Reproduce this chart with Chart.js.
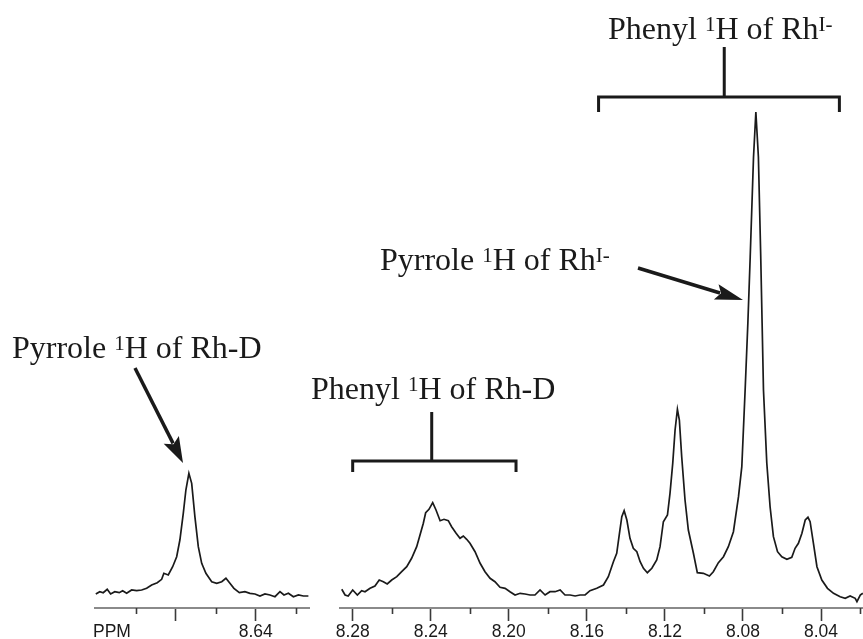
<!DOCTYPE html>
<html><head><meta charset="utf-8">
<script src="https://cdn.jsdelivr.net/npm/chart.js@4.4.0/dist/chart.umd.min.js"></script>
<style>
html,body{margin:0;padding:0;background:#fff;width:863px;height:639px;overflow:hidden}
#wrap{position:relative;width:863px;height:639px;background:#fff}
canvas{position:absolute;top:0;left:0}
</style></head><body>
<div id="wrap">
<canvas id="rightChart" width="863" height="639"></canvas>
<canvas id="leftChart" width="330" height="639"></canvas>
</div>
<script>
// ---- data ----
const leftPpm = [8.7199,8.7179,8.7162,8.7142,8.7125,8.7104,8.7082,8.7065,8.7045,8.7020,8.6995,8.6970,8.6945,8.6920,8.6892,8.6870,8.6859,8.6837,8.6815,8.6795,8.6779,8.6762,8.6749,8.6734,8.6720,8.6704,8.6687,8.6670,8.6649,8.6620,8.6595,8.6570,8.6549,8.6529,8.6509,8.6482,8.6454,8.6429,8.6404,8.6379,8.6354,8.6329,8.6304,8.6279,8.6259,8.6237,8.6212,8.6187,8.6162,8.6137];
const leftIntensity = [14,16.3,15.3,18.7,14,16.3,15.3,17.3,14.7,18,17.3,18,19.7,23,25.3,28.7,34.7,33,41.3,51.3,68,94.7,118,134.7,124.7,91.3,61.3,44.7,34.7,26.3,24.7,26.3,29.7,24.7,19.7,15.3,16.3,14.7,14,12,14,13,11.3,16.3,13,14.7,11.3,13,12,12];
const rightPpm = [8.2856,8.2839,8.2823,8.2800,8.2776,8.2754,8.2737,8.2711,8.2686,8.2664,8.2643,8.2623,8.2600,8.2574,8.2549,8.2523,8.2498,8.2472,8.2455,8.2438,8.2426,8.2409,8.2390,8.2373,8.2352,8.2332,8.2310,8.2293,8.2270,8.2250,8.2233,8.2216,8.2199,8.2173,8.2147,8.2122,8.2096,8.2071,8.2045,8.2019,8.1994,8.1968,8.1942,8.1917,8.1891,8.1866,8.1840,8.1814,8.1789,8.1763,8.1737,8.1712,8.1686,8.1660,8.1635,8.1609,8.1584,8.1549,8.1515,8.1490,8.1464,8.1447,8.1433,8.1421,8.1409,8.1395,8.1379,8.1362,8.1344,8.1327,8.1310,8.1290,8.1267,8.1242,8.1225,8.1208,8.1187,8.1174,8.1160,8.1148,8.1136,8.1126,8.1114,8.1097,8.1080,8.1054,8.1034,8.1003,8.0972,8.0952,8.0926,8.0900,8.0875,8.0849,8.0823,8.0806,8.0789,8.0775,8.0763,8.0746,8.0734,8.0721,8.0709,8.0702,8.0695,8.0678,8.0661,8.0644,8.0623,8.0601,8.0575,8.0550,8.0533,8.0516,8.0498,8.0481,8.0467,8.0456,8.0439,8.0421,8.0396,8.0367,8.0336,8.0302,8.0276,8.0251,8.0225,8.0216,8.0199,8.0186];
const rightIntensity = [18.7,13,12,18,13,17.3,16.3,19.7,22,28,26.3,24,28,31.3,36.3,41.3,49.7,61.3,73,84.7,95.3,98.7,105.3,98,87.3,88.7,87.3,81.3,74.7,69.7,72,68.7,64.7,56.3,44.7,36.3,29.7,26.3,20.7,19.7,16.3,13,14.7,14,13,13,18,13,16.3,16.3,18,13,13,12,13,13,17.3,19.7,23,31.3,46.3,54.7,74.7,91.3,97.3,88,69.7,59.7,56.3,46.3,39.7,35.3,39.7,48,61.3,86.3,93,114.7,144.7,178,198.7,188,151.3,108,78,54.7,35.3,34.7,32,36.3,45.3,51.3,61.3,76.3,111.3,141.3,218,285,351,451,496,451,351,285,218,145,101,71.3,56.3,51.3,48.7,50.7,59.7,64.7,74.7,88,90.7,86.3,64.7,41.3,28,19.7,14.7,11.3,9.7,12,9.7,6.3,13,14.7];
const leftTickLabels = ['8.64'];
const leftLongTicks = ['8.64','8.68'];
const rightTickLabels = ['8.28','8.24','8.20','8.16','8.12','8.08','8.04'];
const leftRange = [8.6134, 8.7203];
const rightRange = [8.0185, 8.2865];
const intensityMax = 508;
const axisTitle = 'PPM';
// annotation texts and the ppm ranges their brackets cover
const labelPyrroleD = [['Pyrrole ',0],['1',1],['H of Rh-D',0]];
const labelPhenylD = [['Phenyl ',0],['1',1],['H of Rh-D',0]];
const labelPyrroleI = [['Pyrrole ',0],['1',1],['H of Rh',0],['I-',1]];
const labelPhenylI = [['Phenyl ',0],['1',1],['H of Rh',0],['I-',1]];
const bracketPhenylD = [8.2800, 8.1963, 8.2395];
const bracketPhenylI = [8.1540, 8.0306, 8.0896];

// ---- drawing helpers ----
const SERIF = '"Liberation Serif", "Times New Roman", serif';
const SANS = '"Liberation Sans", Arial, Helvetica, sans-serif';
const MAIN_PX = 32, SUP_PX = 21, SUP_RAISE = 8;
function richText(ctx, parts, x, y){
  ctx.save();
  ctx.fillStyle = '#1a1a1a';
  ctx.textBaseline = 'alphabetic';
  ctx.textAlign = 'left';
  let cx = x;
  parts.forEach(([t, sup]) => {
    ctx.font = (sup ? SUP_PX : MAIN_PX) + 'px ' + SERIF;
    ctx.fillText(t, cx, sup ? y - SUP_RAISE : y);
    cx += ctx.measureText(t).width;
  });
  ctx.restore();
}
function arrow(ctx, x1, y1, x2, y2, headLen, headW){
  const a = Math.atan2(y2 - y1, x2 - x1);
  const bx = x2 - headLen * Math.cos(a), by = y2 - headLen * Math.sin(a);
  ctx.save();
  ctx.strokeStyle = '#1a1a1a'; ctx.fillStyle = '#1a1a1a';
  ctx.lineWidth = 3.5;
  ctx.beginPath(); ctx.moveTo(x1, y1); ctx.lineTo(bx + 4*Math.cos(a), by + 4*Math.sin(a)); ctx.stroke();
  const nx = -Math.sin(a), ny = Math.cos(a);
  ctx.beginPath();
  ctx.moveTo(x2, y2);
  ctx.lineTo(bx + nx*headW/2, by + ny*headW/2);
  ctx.lineTo(bx + 5*Math.cos(a), by + 5*Math.sin(a));
  ctx.lineTo(bx - nx*headW/2, by - ny*headW/2);
  ctx.closePath(); ctx.fill();
  ctx.restore();
}
function bracket(ctx, xs, range, yTop, yBar, yEnd){
  const x1 = xs.getPixelForValue(range[0]);
  const x2 = xs.getPixelForValue(range[1]);
  const xm = xs.getPixelForValue(range[2]);
  ctx.save();
  ctx.strokeStyle = '#1a1a1a'; ctx.lineWidth = 3; ctx.lineCap = 'butt'; ctx.lineJoin = 'miter';
  ctx.beginPath();
  ctx.moveTo(x1, yEnd); ctx.lineTo(x1, yBar); ctx.lineTo(x2, yBar); ctx.lineTo(x2, yEnd);
  ctx.moveTo(xm, yBar); ctx.lineTo(xm, yTop);
  ctx.stroke();
  ctx.restore();
}
const isLong = (v, longList) => longList.includes(v.toFixed(2));

function makeTicksPlugin(longList){
  return {
    id: 'minorTicks',
    afterDraw(chart){
      const sc = chart.scales.x, ctx = chart.ctx;
      ctx.save();
      ctx.strokeStyle = '#3a3a3a'; ctx.lineWidth = 1.6;
      sc.ticks.forEach(t => {
        if (!isLong(t.value, longList)) {
          const px = Math.round(sc.getPixelForValue(t.value)) + 0.5;
          ctx.beginPath(); ctx.moveTo(px, sc.top); ctx.lineTo(px, sc.top + 6); ctx.stroke();
        }
      });
      ctx.restore();
    }
  };
}

function baseOptions(range, labels, longList, padLeft, padRight){
  return {
    responsive: false,
    animation: false,
    events: [],
    layout: { padding: { left: padLeft, right: padRight, top: 100, bottom: 0 } },
    plugins: { legend: { display: false }, tooltip: { enabled: false } },
    scales: {
      x: {
        type: 'linear', reverse: true, min: range[0], max: range[1],
        afterBuildTicks: sc => { sc.ticks = sc.ticks.filter(t => t.value > sc.min + 0.001 && t.value < sc.max - 0.001); },
        afterFit: sc => { sc.height = 31; },
        border: { display: true, color: '#8a8a8a', width: 2 },
        grid: {
          display: true, drawOnChartArea: false, drawTicks: true, tickLength: 13, tickWidth: 1.6,
          tickColor: c => (c.tick && isLong(c.tick.value, longList)) ? '#3a3a3a' : 'rgba(0,0,0,0)'
        },
        ticks: {
          stepSize: 0.02, autoSkip: false, includeBounds: false, maxRotation: 0, padding: 1,
          color: '#1a1a1a', font: { family: SANS, size: 17.5 },
          callback: v => { const s = Number(v).toFixed(2); return labels.includes(s) ? s : ''; }
        }
      },
      y: { display: false, min: 0, max: intensityMax }
    }
  };
}

function points(xs, ys){ return xs.map((x, i) => ({ x, y: ys[i] })); }

const annotationPlugin = {
  id: 'annotations',
  afterDraw(chart){
    const ctx = chart.ctx, xs = chart.scales.x;
    richText(ctx, labelPhenylI, 608, 39);
    bracket(ctx, xs, bracketPhenylI, 47, 97, 112);
    richText(ctx, labelPyrroleI, 380, 270);
    arrow(ctx, 638, 268, 743, 300, 28, 16);
    richText(ctx, labelPhenylD, 311, 399);
    bracket(ctx, xs, bracketPhenylD, 412, 461, 472);
    richText(ctx, labelPyrroleD, 12, 358);
    arrow(ctx, 135, 368, 183, 463, 26, 17);
  }
};

const lineStyle = { borderColor: '#1a1a1a', borderWidth: 1.7, pointRadius: 0, tension: 0, fill: false };

new Chart(document.getElementById('rightChart'), {
  type: 'line',
  data: { datasets: [Object.assign({ data: points(rightPpm, rightIntensity) }, lineStyle)] },
  options: baseOptions(rightRange, rightTickLabels, rightTickLabels, 340, 0),
  plugins: [makeTicksPlugin(rightTickLabels), annotationPlugin]
});

const ppmLabelPlugin = {
  id: 'ppmLabel',
  afterDraw(chart){
    const ctx = chart.ctx;
    ctx.save();
    ctx.fillStyle = '#1a1a1a';
    ctx.font = '17.5px ' + SANS;
    ctx.textAlign = 'left'; ctx.textBaseline = 'alphabetic';
    ctx.fillText(axisTitle, chart.chartArea.left - 2, 637);
    ctx.restore();
  }
};

new Chart(document.getElementById('leftChart'), {
  type: 'line',
  data: { datasets: [Object.assign({ data: points(leftPpm, leftIntensity) }, lineStyle)] },
  options: baseOptions(leftRange, leftTickLabels, leftLongTicks, 95, 21),
  plugins: [makeTicksPlugin(leftLongTicks), ppmLabelPlugin]
});
</script>
</body></html>
